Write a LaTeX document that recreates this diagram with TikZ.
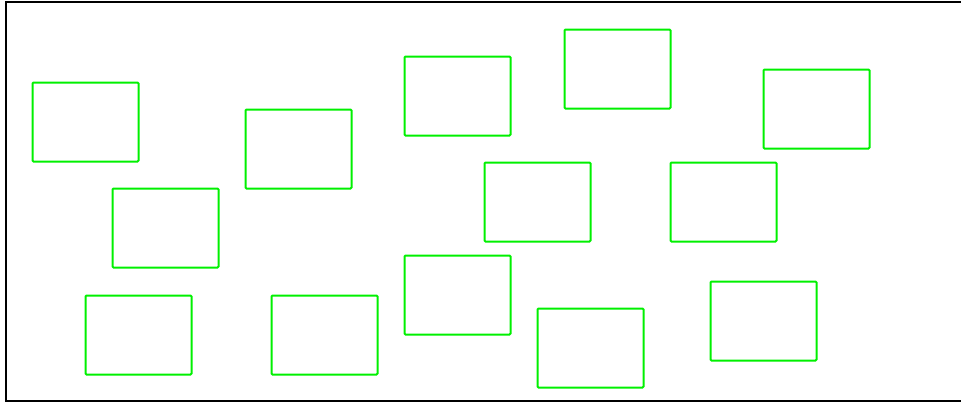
\documentclass[tikz,border=0pt]{standalone}
\begin{document}
\begin{tikzpicture}[x=1pt,y=-1pt,
  gbox/.style={draw={rgb,255:red,0;green,240;blue,0},line width=2pt,rounded corners=1pt,minimum width=106pt,minimum height=79pt,inner sep=0pt,anchor=north west}]
\useasboundingbox (0,0) rectangle (961,402);
\clip (0,0) rectangle (961,402);
\draw[line width=2pt] (5.5,2) rectangle (970,401);
\node[gbox] (b1) at (31.5,81.5) {};
\node[gbox] (b2) at (111.5,187.5) {};
\node[gbox] (b3) at (84.5,294.5) {};
\node[gbox] (b4) at (244.5,108.5) {};
\node[gbox] (b5) at (270.5,294.5) {};
\node[gbox] (b6) at (403.5,55.5) {};
\node[gbox] (b7) at (403.5,254.5) {};
\node[gbox] (b8) at (483.5,161.5) {};
\node[gbox] (b9) at (563.5,28.5) {};
\node[gbox] (b10) at (536.5,307.5) {};
\node[gbox] (b11) at (669.5,161.5) {};
\node[gbox] (b12) at (762.5,68.5) {};
\node[gbox] (b13) at (709.5,280.5) {};
\end{tikzpicture}
\end{document}
